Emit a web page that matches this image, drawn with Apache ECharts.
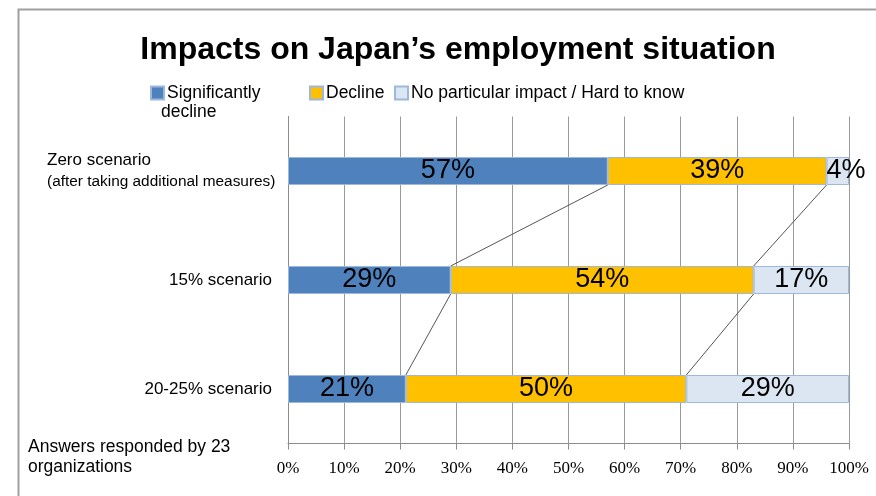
<!DOCTYPE html>
<html>
<head>
<meta charset="utf-8">
<script src="https://cdn.jsdelivr.net/npm/echarts@6/dist/echarts.min.js"></script>
<style>
html,body{margin:0;padding:0;background:#fff;}
#chart{width:876px;height:496px;}
</style>
</head>
<body>
<div id="chart"></div>
<script>
const categories = ['Zero scenario', '15% scenario', '20-25% scenario'];
const significantlyDecline = [57, 29, 21];
const decline = [39, 54, 50];
const noImpact = [4, 17, 29];
const xTicks = [0, 10, 20, 30, 40, 50, 60, 70, 80, 90, 100];
const seriesNames = ['Significantly decline', 'Decline', 'No particular impact / Hard to know'];

const sans = "'Liberation Sans', Arial, sans-serif";
const BAR_W = 28;

// series lines (connectors between stacked segment ends)
const cum1 = significantlyDecline;
const cum2 = significantlyDecline.map((v, i) => v + decline[i]);
const connectors = [];
for (let i = 0; i < categories.length - 1; i++) {
  connectors.push([cum1[i], i, cum1[i + 1], i + 1]);
  connectors.push([cum2[i], i, cum2[i + 1], i + 1]);
}

const chart = echarts.init(document.getElementById('chart'), null, {renderer: 'canvas'});
const border = '#9cb8dc';
const labelCfg = {
  show: true, position: 'inside', formatter: '{c}%',
  color: '#000', fontSize: 27, fontFamily: sans
};
const legendText = {fontSize: 17.5, fontFamily: sans, color: '#000', padding: [0, 0, 0, -2]};
const option = {
  animation: false,
  backgroundColor: '#fff',
  title: {
    text: 'Impacts on Japan\u2019s employment situation',
    left: 453, top: 29, textAlign: 'center',
    textStyle: {fontSize: 32, fontWeight: 'bold', fontFamily: sans, color: '#000'}
  },
  legend: [
    {data: [seriesNames[0]], left: 145, top: 79, icon: 'rect', itemWidth: 13, itemHeight: 13, itemGap: 4,
     formatter: () => 'Significantly', textStyle: legendText},
    {data: [seriesNames[1]], left: 304, top: 79, icon: 'rect', itemWidth: 13, itemHeight: 13,
     textStyle: legendText},
    {data: [seriesNames[2]], left: 389, top: 79, icon: 'rect', itemWidth: 13, itemHeight: 13,
     textStyle: legendText}
  ],
  grid: {left: 288, right: 27, top: 116.5, bottom: 52.5, containLabel: false},
  xAxis: {
    type: 'value', min: 0, max: 100, interval: 10,
    axisLine: {show: true, lineStyle: {color: '#8c8c8c', width: 1}},
    axisTick: {show: true, length: 6, lineStyle: {color: '#8c8c8c'}},
    splitLine: {show: true, lineStyle: {color: '#9a9a9a', width: 1}},
    axisLabel: {
      margin: 17, fontSize: 17, fontFamily: "'Liberation Serif', 'DejaVu Serif', serif", color: '#000',
      formatter: v => xTicks.indexOf(v) >= 0 ? v + '%' : ''
    }
  },
  yAxis: {
    type: 'category', data: categories, inverse: true,
    axisLine: {show: true, lineStyle: {color: '#8c8c8c'}},
    axisTick: {show: false},
    axisLabel: {
      margin: 13, color: '#000', fontSize: 17, fontFamily: sans,
      formatter: v => v === categories[0]
        ? '{a|' + v + '}\n{b|(after taking additional measures)}'
        : '{c|' + v + '}',
      rich: {
        a: {fontSize: 17, fontFamily: sans, width: 228, align: 'left', lineHeight: 22, color: '#000'},
        b: {fontSize: 15.4, fontFamily: sans, width: 228, align: 'left', lineHeight: 22, color: '#000'},
        c: {fontSize: 17, fontFamily: sans, color: '#000', padding: [0, 3, 0, 0]}
      }
    }
  },
  series: [
    {name: seriesNames[0], type: 'bar', stack: 'total', data: significantlyDecline, barWidth: BAR_W,
     itemStyle: {color: '#4f81bd', borderColor: border, borderWidth: 1}, label: labelCfg, z: 3},
    {name: seriesNames[1], type: 'bar', stack: 'total', data: decline, barWidth: BAR_W,
     itemStyle: {color: '#ffc000', borderColor: border, borderWidth: 1}, label: labelCfg, z: 3},
    {name: seriesNames[2], type: 'bar', stack: 'total', barWidth: BAR_W,
     data: noImpact.map(v => v < 10 ? {value: v, label: {position: 'insideLeft', distance: 0}} : v),
     itemStyle: {color: '#dce6f2', borderColor: border, borderWidth: 1}, label: labelCfg, z: 3},
    {
      type: 'custom', silent: true, z: 4,
      encode: {x: [0, 2], y: [1, 3]},
      data: connectors,
      renderItem: (params, api) => {
        const p1 = api.coord([api.value(0), api.value(1)]);
        const p2 = api.coord([api.value(2), api.value(3)]);
        return {
          type: 'line',
          shape: {x1: p1[0], y1: p1[1] + BAR_W / 2, x2: p2[0], y2: p2[1] - BAR_W / 2},
          style: {stroke: '#555', lineWidth: 1}
        };
      }
    }
  ],
  graphic: [
    {type: 'polyline', silent: true, shape: {points: [[18.5, 496], [18.5, 9.5], [876, 9.5]]},
     style: {stroke: '#a0a0a0', lineWidth: 2, fill: null}},
    {type: 'text', left: 161, top: 103,
     style: {text: 'decline', fontSize: 17.5, fontFamily: sans, fill: '#000'}},
    {type: 'text', left: 28, top: 437,
     style: {text: 'Answers responded by 23\norganizations', fontSize: 17.5, lineHeight: 20, fontFamily: sans, fill: '#000'}}
  ]
};
chart.setOption(option);
</script>
</body>
</html>
